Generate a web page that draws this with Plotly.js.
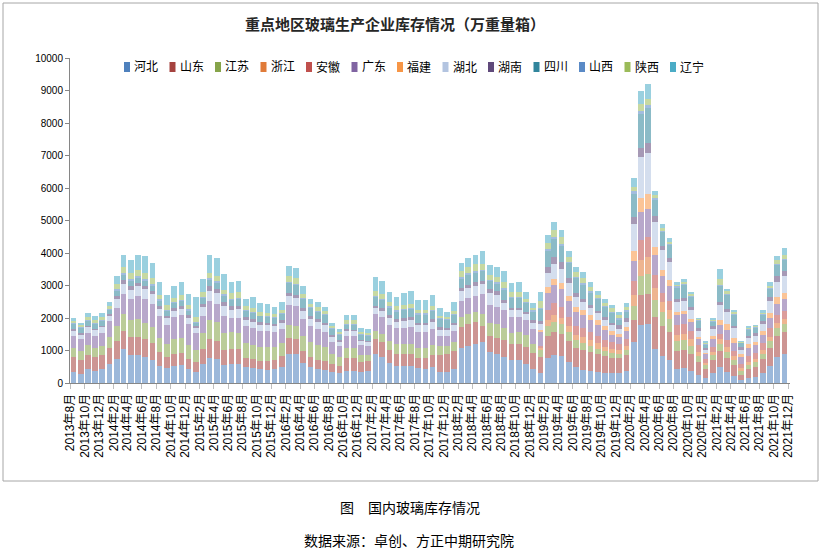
<!DOCTYPE html>
<html><head><meta charset="utf-8">
<script src="https://cdn.plot.ly/plotly-3.0.1.min.js"></script>
<style>html,body{margin:0;padding:0;background:#fff}#chart{width:821px;height:555px}</style>
</head><body><div id="chart"></div>
<script>
// ---- categories: monthly, 2013-08 .. 2021-11 ----
const startYear = 2013, startMonth = 8, monthCount = 100;
const months = [];
for (let i = 0; i < monthCount; i++) {
  const y = startYear + Math.floor((startMonth - 1 + i) / 12);
  const m = (startMonth - 1 + i) % 12 + 1;
  months.push(y + '-' + String(m).padStart(2, '0') + '-15');
}
// ---- tick labels every 2 months ----
const tickVals = [], tickLabels = [];
for (let i = 0; i <= 100; i += 2) {
  const y = startYear + Math.floor((startMonth - 1 + i) / 12);
  const m = (startMonth - 1 + i) % 12 + 1;
  tickVals.push(y + '-' + String(m).padStart(2, '0') + '-01');
  tickLabels.push(y + '年' + m + '月');
}

// ---- series (万重量箱) ----
const hebei = [330,290,420,380,420,580, 750,1050,850,850,800,700, 520,450,530,540,420,340, 600,780,740,560,580,600,
  480,460,430,400,420,500, 900,880,620,480,420,400, 330,300,380,380,330,380, 890,800,620,530,520,530,
  450,440,480,350,330,430, 1080,1150,1200,1250,950,890, 810,700,700,600,420,300, 780,860,820,650,480,400,
  380,350,320,310,300,380, 1250,1800,1830,1050,840,720, 440,450,380,260,140,300, 480,350,230,80,150,200,
  310,520,800,900];
const shandong = [460,430,440,420,430,500, 550,560,560,580,560,540, 420,360,360,380,330,310, 460,580,560,470,470,450,
  300,280,260,280,300,320, 470,460,360,310,300,280, 240,220,400,400,320,290, 460,450,400,370,360,360,
  330,330,380,520,560,560, 650,660,670,510,500,510, 510,500,510,520,510,510, 680,720,700,640,600,620,
  580,540,500,470,460,480, 700,900,920,980,900,840, 550,560,500,380,300,400, 510,410,330,180,270,300,
  430,560,650,660];
const jiangsu = [290,270,300,280,280,330, 450,520,520,540,500,480, 460,400,460,470,420,360, 470,580,570,500,520,500,
  440,420,410,420,400,400, 420,410,460,460,450,420, 320,280,310,300,220,200, 260,270,280,290,310,310,
  300,300,300,260,250,260, 300,300,300,360,400,420, 360,340,350,360,280,200, 290,310,300,270,230,200,
  180,170,150,140,130,150, 420,600,610,520,450,420, 300,300,270,190,100,150, 200,200,150,110,140,140,
  160,210,240,250];
const zhejiang = [0,0,0,0,0,0,0,0,0,0, 0,0,0,0,0,0,0,0,0,0, 0,0,0,0,0,0,0,0,0,0, 0,0,0,0,0,0,0,0,0,0,
  0,0,0,0,0,0,0,0,0,0, 0,0,0,0,0,0,0,0,0,0, 0,0,0,0,0, 60,
  180,200,190,180,180,200, 180,170,150,130,120,140, 350,500,510,360,290,270, 200,210,190,130,70,110,
  150,150,110,80,100,100, 110,140,150,150];
const anhui = [0,0,0,0,0,0,0,0,0,0, 0,0,0,0,0,0,0,0,0,0, 0,0,0,0,0,0,0,0,0,0, 0,0,0,0,0,0,0,0,0,0,
  0,0,0,0,0,0,0,0,0,0, 0,0,0,0,0,0,0,0,0,0, 0,0,0,0,0, 60,
  330,360,340,300,270,260, 240,220,210,200,200,210, 420,600,610,400,300,280, 290,300,270,200,130,160,
  160,200,160,130,170,180, 210,250,260,260];
const guangdong = [380,360,390,380,420,500, 560,620,640,700,720,720, 650,580,670,690,640,520, 520,570,560,540,420,450,
  520,520,510,500,440,450, 620,610,540,510,500,480, 360,330,360,360,290,270, 510,520,500,500,510,510,
  480,490,500,330,320,360, 500,510,520,620,540,510, 570,500,480,460,460,450, 520,560,540,480,430,410,
  370,340,300,240,210,240, 600,850,870,620,500,460, 300,300,270,200,140,220, 300,310,260,210,250,250,
  270,320,340,350];
const fujian = [0,0,0,0,0,0,0,0,0,0, 0,0,0,0,0,0,0,0,0,0, 0,0,0,0,0,0,0,0,0,0, 0,0,0,0,0,0,0,0,0,0,
  0,0,0,0,0,0,0,0,0,0, 0,0,0,0,0,0,0,0,0,0, 0,0,0,0,0, 50,
  180,200,190,170,160,160, 150,140,120,110,100,110, 310,450,460,270,200,190, 110,110,100,70,50,110,
  150,200,160,100,110,100, 110,160,200,210];
const hubei = [150,140,160,160,160,160, 280,300,300,300,300,300, 230,200,200,210,200,150, 280,330,330,300,270,280,
  200,200,190,190,190,190, 260,260,230,220,210,200, 160,140,150,150,130,120, 180,190,200,200,220,230,
  220,220,220,180,180,180, 290,300,300,300,380,390, 220,200,200,180,190,200, 420,460,430,380,300,250,
  230,210,190,170,150,180, 850,1240,1270,750,600,540, 290,300,260,180,100,220, 440,360,280,140,180,180,
  210,350,480,500];
const hunan = [50,50,50,50,50,50, 100,110,110,110,110,100, 90,80,80,80,80,60, 110,130,130,120,100,100,
  80,80,70,70,70,70, 100,100,90,80,80,80, 60,50,50,50,40,40, 80,80,80,80,80,80,
  80,80,80,70,60,60, 100,110,110,110,120,120, 80,70,70,70,70,70, 190,210,200,160,110,100,
  90,80,80,80,100,100, 210,300,310,190,150,140, 100,100,90,70,50,70, 100,100,80,70,80,90,
  110,140,160,160];
const sichuan = [150,140,150,150,150,120, 150,160,160,160,160,160, 160,150,150,150,140,110, 170,200,200,190,200,210,
  200,200,180,180,180,190, 310,300,280,250,240,230, 180,160,150,160,140,140, 260,250,240,230,250,250,
  240,240,250,250,230,250, 290,300,300,300,250,220, 320,300,310,270,270,380, 500,550,520,450,460,420,
  380,350,310,290,180,210, 720,1040,1060,500,410,380, 350,380,320,220,100,150, 480,420,330,120,180,160,
  170,250,340,350];
const shanxi = [30,30,30,30,30,30, 40,50,50,50,50,50, 40,40,40,40,40,40, 40,50,50,50,40,40,
  40,40,20,20,20,20, 40,40,40,30,30,30, 30,30,30,30,30,30, 40,40,40,40,40,40,
  40,40,40,30,30,30, 40,40,40,40,40,40, 40,40,40,40,40,40, 60,60,60,50,50,50,
  40,40,40,40,40,40, 70,100,100,60,50,50, 40,40,40,30,20,20, 50,50,40,20,30,30,
  20,30,40,40];
const shaanxi = [80,70,100,90,90,100, 170,200,190,200,200,190, 150,130,130,140,130,150, 140,160,150,140,160,160,
  110,110,100,100,100,110, 160,160,120,100,100,90, 70,60,100,100,80,70, 160,150,130,120,120,120,
  110,110,120,80,70,100, 200,210,210,170,150,150, 210,150,150,90,70,200, 190,210,200,150,150,150,
  120,110,100,120,100,90, 140,190,200,80,90,60, 50,60,40,30,30,30, 170,90,60,20,30,20,
  30,60,120,120];
const liaoning = [80,70,110,110,120,130, 250,380,420,460,500,460, 380,310,380,400,350,610, 410,570,560,480,340,360,
  230,330,280,260,230,250, 320,310,260,160,150,140, 100,90,170,170,120,110, 410,400,310,280,360,390,
  310,310,350,230,170,270, 250,270,300,410,300,330, 330,270,290,210,140,280, 230,250,210,180,160,210,
  160,120,100,100,110,120, 260,430,450,120,120,100, 80,90,70,40,50,60, 310,60,60,40,60,50,
  110,110,120,200];

const seriesNames = ['河北','山东','江苏','浙江','安徽','广东','福建','湖北','湖南','四川','山西','陕西','辽宁'];
const seriesData = [hebei, shandong, jiangsu, zhejiang, anhui, guangdong, fujian, hubei, hunan, sichuan, shanxi, shaanxi, liaoning];
const seriesColors = ['#4F81BD','#A5423F','#86A44A','#E07B39','#C0504D','#8064A2','#F79646','#B3C4E0','#604A7B','#31859C','#5A8AC6','#9BBB59','#4BACC6'];

const FONT = '"Liberation Sans", Arial, "Noto Sans CJK SC", sans-serif';
const traces = seriesNames.map((n, i) => ({
  type: 'bar', name: n, x: months, y: seriesData[i],
  width: 24 * 86400000,
  marker: {color: seriesColors[i], opacity: 0.56, line: {width: 0}},
  showlegend: false, hoverinfo: 'x+y+name'
}));

// plot area: x 70..790, y 58..383 (px)
const PX = v => (v - 70) / 720, PY = v => (383 - v) / 325;
const shapes = [], annotations = [];
seriesNames.forEach((n, i) => {
  const cx = 127 + i * 45.5;
  shapes.push({type: 'rect', xref: 'paper', yref: 'paper', x0: PX(cx - 3), x1: PX(cx + 3), y0: PY(72), y1: PY(62),
    fillcolor: seriesColors[i], line: {width: 0}});
  annotations.push({xref: 'paper', yref: 'paper', x: PX(cx + 5), y: PY(67), xanchor: 'left', yanchor: 'middle',
    text: n, showarrow: false, font: {family: FONT, size: 12, color: '#000'}});
});
// outer chart frame
shapes.push({type: 'rect', xref: 'paper', yref: 'paper', x0: PX(3), x1: PX(818), y0: PY(481), y1: PY(3),
  line: {color: '#A6A6A6', width: 1}, fillcolor: 'rgba(0,0,0,0)', layer: 'below'});
annotations.push({xref: 'paper', yref: 'paper', x: PX(410), y: PY(508), text: '图　国内玻璃库存情况', showarrow: false,
  xanchor: 'center', yanchor: 'middle', font: {family: FONT, size: 14, color: '#000'}});
annotations.push({xref: 'paper', yref: 'paper', x: PX(409), y: PY(541), text: '数据来源：卓创、方正中期研究院', showarrow: false,
  xanchor: 'center', yanchor: 'middle', font: {family: FONT, size: 14, color: '#000'}});

const layout = {
  width: 821, height: 555,
  margin: {l: 70, r: 31, t: 58, b: 172},
  paper_bgcolor: '#fff', plot_bgcolor: '#fff',
  barmode: 'stack', bargap: 0,
  title: {text: '<b>重点地区玻璃生产企业库存情况（万重量箱）</b>', xref: 'container', yref: 'container',
    x: 395 / 821, y: 1 - 25 / 555, xanchor: 'center', yanchor: 'middle',
    font: {family: FONT, size: 15, color: '#262626'}},
  xaxis: {type: 'date', range: ['2013-07-31', '2021-12-08'], tickmode: 'array', tickvals: tickVals, ticktext: tickLabels,
    tickangle: -90, ticks: 'outside', ticklen: 5, tickcolor: '#BFBFBF', showline: true, linecolor: '#868686',
    showgrid: false, zeroline: false, tickfont: {family: FONT, size: 12, color: '#000'}, fixedrange: true},
  yaxis: {range: [0, 10000], dtick: 1000, tickformat: 'd', ticks: 'outside', ticklen: 4, tickcolor: '#868686', showline: true,
    linecolor: '#868686', showgrid: false, zeroline: false, tickfont: {family: FONT, size: 10, color: '#000'}, fixedrange: true},
  shapes: shapes, annotations: annotations
};
Plotly.newPlot('chart', traces, layout, {displayModeBar: false, staticPlot: true});
</script></body></html>
